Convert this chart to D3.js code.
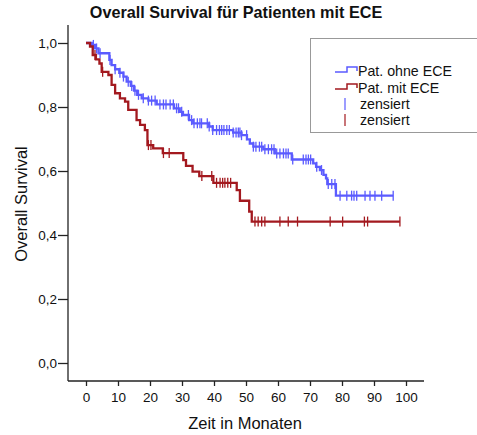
<!DOCTYPE html>
<html>
<head>
<meta charset="utf-8">
<script src="https://cdn.jsdelivr.net/npm/d3@7"></script>
<style>
  body { margin: 0; background: #fff; }
  svg { font-family: "Liberation Sans", Arial, sans-serif; }
</style>
</head>
<body>
<div id="chart"></div>
<script>
// step points (time in months, survival after the step)
var blueTimes = [0, 1.8, 2.8, 3.9, 7.3, 8.0, 9.1, 10.4, 11.7, 12.7, 14.0, 15.0, 16.0, 17.4, 19.5, 22.1, 27.5, 29.3, 30.3, 32.2, 33.5, 38.5, 39.6, 46.0, 48.6, 50.3, 51.2, 52.3, 55.4, 59.0, 64.3, 71.0, 71.9, 73.1, 74.2, 75.0, 75.4, 78.1];
var blueSurv  = [1.0, 0.994, 0.983, 0.968, 0.947, 0.931, 0.918, 0.907, 0.895, 0.879, 0.866, 0.851, 0.838, 0.827, 0.82, 0.808, 0.796, 0.785, 0.775, 0.759, 0.749, 0.739, 0.728, 0.72, 0.712, 0.699, 0.686, 0.676, 0.668, 0.655, 0.636, 0.624, 0.613, 0.603, 0.588, 0.577, 0.559, 0.523];
var blueCensored = [2.3, 3.3, 4.4, 7.5, 9.1, 10.6, 11.7, 13.2, 14.3, 15.3, 16.4, 17.9, 19.5, 20.5, 21.6, 23.1, 24.2, 25, 26.3, 27.3, 28.3, 28.9, 29.9, 32, 33, 33.75, 34.8, 35.6,
  36.1, 37.9, 38.5, 39.6, 40.8, 41.7, 42.4, 43.1, 44, 44.8, 46, 46.9, 47.6, 48.1, 48.6, 50.2, 52.3, 53.1, 54.2, 54.9, 55.9, 57, 58, 58.75, 59.6, 60.6, 61.7, 62.5, 63.2, 64.6,
  67.9, 68.75, 69.5, 70.2, 72.1, 73.6, 75.7, 76.8, 77.8, 79.4, 81.5, 83, 83.75, 84.6, 87.2, 88.75, 90.3, 92.4, 96];

var redTimes = [0, 1.25, 2.1, 3.1, 4.2, 4.9, 7.0, 8.0, 9.1, 10.6, 12.2, 13.2, 15.8, 16.9, 18.4, 19.2, 21.0, 24.0, 30.4, 31.25, 33.3, 35.4, 39.8, 47.1, 48.1, 51.0, 51.8];
var redSurv  = [1.0, 0.989, 0.9625, 0.949, 0.936, 0.91, 0.9, 0.869, 0.843, 0.827, 0.817, 0.791, 0.759, 0.744, 0.728, 0.681, 0.671, 0.656, 0.634, 0.616, 0.598, 0.584, 0.563, 0.54, 0.507, 0.473, 0.442];
var redCensored = [2.8, 5.2, 19.5, 20.3, 24.2, 26, 36.2, 39.3, 40.8, 41.9, 42.7, 43.4, 44.3, 45.2, 52.8, 53.8, 54.9, 55.9, 60.6, 63.2, 66.1, 76.3, 80.2, 87, 88, 98.1];

var xTicks = [0, 10, 20, 30, 40, 50, 60, 70, 80, 90, 100];
var yTicks = [0, 0.2, 0.4, 0.6, 0.8, 1.0];
var seriesNames = ["Pat. ohne ECE", "Pat. mit ECE"];
var blueColor = "#5b5bff", redColor = "#a3191f";

var W = 477, H = 435;
var svg = d3.select("#chart").append("svg").attr("width", W).attr("height", H);

var x = d3.scaleLinear().domain([0, 100]).range([86, 406]);
var y = d3.scaleLinear().domain([0, 1]).range([363, 43]);

// axes frame
var axisX0 = 68, axisY0 = 381;
svg.append("line").attr("x1", axisX0).attr("x2", axisX0).attr("y1", 25).attr("y2", axisY0)
  .attr("stroke", "#222").attr("stroke-width", 1.3);
svg.append("line").attr("x1", axisX0).attr("x2", 424).attr("y1", axisY0).attr("y2", axisY0)
  .attr("stroke", "#222").attr("stroke-width", 1.3);

var fmt = function (d) { return d3.format(".1f")(d).replace(".", ","); };

var yAxis = svg.append("g").attr("transform", "translate(" + axisX0 + ",0)")
  .call(d3.axisLeft(y).tickValues(yTicks).tickFormat(fmt).tickSize(10).tickPadding(1));
yAxis.select(".domain").remove();
yAxis.selectAll("line").attr("stroke", "#222").attr("stroke-width", 1.3);
yAxis.selectAll("text").attr("font-size", 13.5).attr("fill", "#111")
  .attr("font-family", "Liberation Sans, Arial, sans-serif");

var xAxis = svg.append("g").attr("transform", "translate(0," + axisY0 + ")")
  .call(d3.axisBottom(x).tickValues(xTicks).tickSize(5).tickPadding(6));
xAxis.select(".domain").remove();
xAxis.selectAll("line").attr("stroke", "#222").attr("stroke-width", 1.3);
xAxis.selectAll("text").attr("font-size", 13.5).attr("fill", "#111")
  .attr("font-family", "Liberation Sans, Arial, sans-serif");

// titles
svg.append("text").attr("x", 236).attr("y", 18).attr("text-anchor", "middle")
  .attr("font-size", 16.2).attr("font-weight", "bold").attr("fill", "#111")
  .text("Overall Survival für Patienten mit ECE");
svg.append("text").attr("x", 245).attr("y", 429).attr("text-anchor", "middle")
  .attr("font-size", 16.5).attr("fill", "#111").text("Zeit in Monaten");
svg.append("text").attr("transform", "translate(27,204) rotate(-90)").attr("text-anchor", "middle")
  .attr("font-size", 16.5).attr("fill", "#111").text("Overall Survival");

function survAt(times, surv, t) {
  var i = d3.bisectRight(times, t) - 1;
  return surv[Math.max(0, i)];
}

var stepLine = d3.line().x(function (d) { return x(d[0]); }).y(function (d) { return y(d[1]); })
  .curve(d3.curveStepAfter);

function drawCurve(times, surv, cens, color) {
  var pts = times.map(function (t, i) { return [t, surv[i]]; });
  var tEnd = d3.max([d3.max(times), d3.max(cens)]);
  pts.push([tEnd, surv[surv.length - 1]]);
  svg.append("path").datum(pts).attr("d", stepLine).attr("fill", "none")
    .attr("stroke", color).attr("stroke-width", 2.3);
  svg.append("g").selectAll("line").data(cens).enter().append("line")
    .attr("x1", function (d) { return x(d); }).attr("x2", function (d) { return x(d); })
    .attr("y1", function (d) { return y(survAt(times, surv, d)) - 5; })
    .attr("y2", function (d) { return y(survAt(times, surv, d)) + 5; })
    .attr("stroke", color).attr("stroke-width", 1.3);
}

drawCurve(blueTimes, blueSurv, blueCensored, blueColor);
drawCurve(redTimes, redSurv, redCensored, redColor);

// legend
var lg = svg.append("g");
lg.append("rect").attr("x", 310.5).attr("y", 38.5).attr("width", 170).attr("height", 94)
  .attr("fill", "none").attr("stroke", "#999").attr("stroke-width", 1);
var legendItems = [
  { label: seriesNames[0], color: blueColor, kind: "step", y: 72 },
  { label: seriesNames[1], color: redColor, kind: "step", y: 89 },
  { label: "zensiert", color: blueColor, kind: "tick", y: 105 },
  { label: "zensiert", color: redColor, kind: "tick", y: 121 }
];
legendItems.forEach(function (it) {
  if (it.kind === "step") {
    lg.append("path")
      .attr("d", "M335," + it.y + "H347V" + (it.y - 5) + "H357V" + (it.y - 1))
      .attr("fill", "none").attr("stroke", it.color).attr("stroke-width", 1.5);
    lg.append("text").attr("x", 358).attr("y", it.y + 4).attr("font-size", 14.2)
      .attr("fill", "#111").text(it.label);
  } else {
    lg.append("line").attr("x1", 345).attr("x2", 345).attr("y1", it.y - 7).attr("y2", it.y + 5)
      .attr("stroke", it.color).attr("stroke-width", 1.2);
    lg.append("text").attr("x", 360).attr("y", it.y + 4).attr("font-size", 14.2)
      .attr("fill", "#111").text(it.label);
  }
});
</script>
</body>
</html>
